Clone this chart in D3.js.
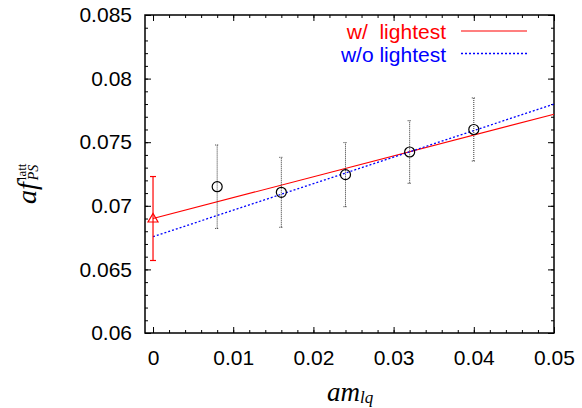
<!DOCTYPE html>
<html>
<head>
<meta charset="utf-8">
<script src="https://cdn.jsdelivr.net/npm/d3@7"></script>
<style>
  body { margin: 0; background: #fff; }
  svg { display: block; }
  .tick text { font-family: "Liberation Sans", Arial, sans-serif; font-size: 21px; fill: #000; }
  .tick line { stroke: #000; stroke-width: 1; }
</style>
</head>
<body>
<svg id="chart" width="582" height="408"></svg>
<script>
// lattice points (am_lq vs af_PS^latt) with errors
var amlq = [0.008, 0.016, 0.024, 0.032, 0.040];
var fps = [0.0715, 0.07106, 0.07245, 0.07423, 0.0760];
var fpsErr = [0.00328, 0.00275, 0.00252, 0.00246, 0.00248];

// chiral limit value (w/ lightest)
var chiralX = [0];
var chiralVal = [0.0690];
var chiralErr = [0.0033];

// linear fits, ends at am_lq = 0 and 0.05
var fitX = [0, 0.05];
var fitWith = [0.0690, 0.0772];
var fitWithout = [0.06757, 0.0780];

var xTicks = [0, 0.01, 0.02, 0.03, 0.04, 0.05];
var xTickLabels = ["0", "0.01", "0.02", "0.03", "0.04", "0.05"];
var yTicks = [0.06, 0.065, 0.07, 0.075, 0.08, 0.085];
var yTickLabels = ["0.06", "0.065", "0.07", "0.075", "0.08", "0.085"];
var xMinor = d3.range(0, 0.0501, 0.002);
var yMinor = d3.range(0.06, 0.0851, 0.001);

var legendNames = ["w/  lightest", "w/o lightest"];
var legendColors = ["#ff0000", "#0000ff"];

var svg = d3.select("#chart");

var pLeft = 145, pRight = 554, pTop = 15, pBottom = 333;

var x = d3.scaleLinear().domain([-0.001, 0.05]).range([pLeft, pRight]);
var y = d3.scaleLinear().domain([0.06, 0.085]).range([pBottom, pTop]);

// axes: inside ticks on all four sides
function addAxis(axis, tx, ty) {
  var g = svg.append("g")
    .attr("transform", "translate(" + tx + "," + ty + ")")
    .call(axis);
  g.select(".domain").remove();
  return g;
}

addAxis(d3.axisBottom(x).tickValues(xMinor).tickSize(-3).tickFormat(""), 0, pBottom);
addAxis(d3.axisTop(x).tickValues(xMinor).tickSize(-3).tickFormat(""), 0, pTop);
addAxis(d3.axisLeft(y).tickValues(yMinor).tickSize(-3).tickFormat(""), pLeft, 0);
addAxis(d3.axisRight(y).tickValues(yMinor).tickSize(-3).tickFormat(""), pRight, 0);

addAxis(d3.axisBottom(x).tickValues(xTicks).tickSize(-6).tickPadding(17)
  .tickFormat(function(d, i) { return xTickLabels[i]; }), 0, pBottom);
addAxis(d3.axisTop(x).tickValues(xTicks).tickSize(-6).tickFormat(""), 0, pTop);
addAxis(d3.axisLeft(y).tickValues(yTicks).tickSize(-6).tickPadding(13)
  .tickFormat(function(d, i) { return yTickLabels[i]; }), pLeft, 0);
addAxis(d3.axisRight(y).tickValues(yTicks).tickSize(-6).tickFormat(""), pRight, 0);

svg.append("rect")
  .attr("x", pLeft).attr("y", pTop)
  .attr("width", pRight - pLeft).attr("height", pBottom - pTop)
  .attr("fill", "none").attr("stroke", "#000").attr("stroke-width", 1.5);

// fit lines
var line = d3.line()
  .x(function(d) { return x(d[0]); })
  .y(function(d) { return y(d[1]); });

svg.append("path")
  .datum(d3.zip(fitX, fitWith))
  .attr("d", line)
  .attr("fill", "none").attr("stroke", "#ff0000").attr("stroke-width", 1.2);

svg.append("path")
  .datum(d3.zip(fitX, fitWithout))
  .attr("d", line)
  .attr("fill", "none").attr("stroke", "#0000ff").attr("stroke-width", 1.3)
  .attr("stroke-dasharray", "2,2");

// data error bars (dotted black)
var pts = amlq.map(function(d, i) { return {x: d, y: fps[i], e: fpsErr[i]}; });
var eb = svg.append("g").attr("stroke", "#333").attr("stroke-width", 1).attr("stroke-dasharray", "1,1");
eb.selectAll(".v").data(pts).enter().append("line")
  .attr("x1", function(d) { return x(d.x); }).attr("x2", function(d) { return x(d.x); })
  .attr("y1", function(d) { return y(d.y - d.e); }).attr("y2", function(d) { return y(d.y + d.e); });
eb.selectAll(".t").data(pts).enter().append("line")
  .attr("x1", function(d) { return x(d.x) - 2; }).attr("x2", function(d) { return x(d.x) + 2; })
  .attr("y1", function(d) { return y(d.y + d.e); }).attr("y2", function(d) { return y(d.y + d.e); });
eb.selectAll(".b").data(pts).enter().append("line")
  .attr("x1", function(d) { return x(d.x) - 2; }).attr("x2", function(d) { return x(d.x) + 2; })
  .attr("y1", function(d) { return y(d.y - d.e); }).attr("y2", function(d) { return y(d.y - d.e); });

svg.selectAll(".pt").data(pts).enter().append("circle")
  .attr("cx", function(d) { return x(d.x); })
  .attr("cy", function(d) { return y(d.y); })
  .attr("r", 5)
  .attr("fill", "none").attr("stroke", "#000").attr("stroke-width", 1.2);

// chiral limit point (red)
var cp = chiralX.map(function(d, i) { return {x: d, y: chiralVal[i], e: chiralErr[i]}; });
var rg = svg.append("g").attr("stroke", "#ff0000").attr("stroke-width", 1.2).attr("fill", "none");
cp.forEach(function(d) {
  var cx = x(d.x), y0 = y(d.y - d.e), y1 = y(d.y + d.e), cy = y(d.y);
  rg.append("line").attr("x1", cx).attr("x2", cx).attr("y1", y0).attr("y2", y1);
  rg.append("line").attr("x1", cx - 3).attr("x2", cx + 3).attr("y1", y0).attr("y2", y0);
  rg.append("line").attr("x1", cx - 3).attr("x2", cx + 3).attr("y1", y1).attr("y2", y1);
  rg.append("path")
    .attr("d", "M" + (cx - 5) + "," + (cy + 3.5) + "L" + (cx + 5) + "," + (cy + 3.5) + "L" + cx + "," + (cy - 5) + "Z");
});

// legend
var legend = svg.append("g");
legendNames.forEach(function(name, i) {
  legend.append("text")
    .attr("x", 446).attr("y", 39 + i * 22.5)
    .attr("text-anchor", "end")
    .style("white-space", "pre")
    .attr("font-family", "Liberation Sans, Arial, sans-serif")
    .attr("font-size", 21)
    .attr("fill", legendColors[i])
    .text(name);
  legend.append("line")
    .attr("x1", 461).attr("x2", 527)
    .attr("y1", 31 + i * 22.5).attr("y2", 31 + i * 22.5)
    .attr("stroke", legendColors[i])
    .attr("stroke-width", i ? 1.3 : 1.2)
    .attr("stroke-dasharray", i ? "2,2" : null);
});

// x axis title: am_lq
var xt = svg.append("text")
  .attr("x", 327).attr("y", 401)
  .attr("font-family", "Liberation Serif, Times New Roman, serif")
  .attr("font-style", "italic")
  .attr("font-size", 27);
xt.append("tspan").text("am");
xt.append("tspan").attr("font-size", 17).attr("dy", 2).text("lq");

// y axis title: af_PS^latt (rotated)
var yg = svg.append("g").attr("transform", "translate(36,204) rotate(-90)");
var af = yg.append("text")
  .attr("x", 0).attr("y", 0)
  .attr("font-family", "Liberation Serif, Times New Roman, serif")
  .attr("font-style", "italic")
  .attr("font-size", 28)
  .text("af");
var w = af.node().getComputedTextLength();
yg.append("text")
  .attr("x", w + 2).attr("y", 2)
  .attr("font-family", "Liberation Serif, Times New Roman, serif")
  .attr("font-style", "italic")
  .attr("font-size", 14)
  .text("PS");
yg.append("text")
  .attr("x", w + 2).attr("y", -10)
  .attr("font-family", "Liberation Serif, Times New Roman, serif")
  .attr("font-size", 13)
  .text("latt");
</script>
</body>
</html>
